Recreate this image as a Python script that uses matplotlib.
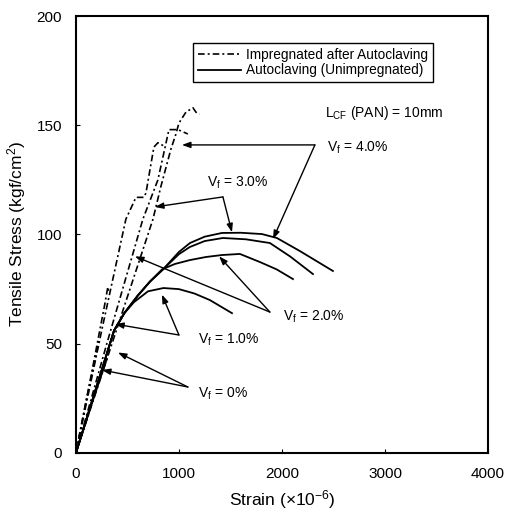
"""
Tensile stress-strain curves of carbon fibre reinforced autoclaved specimens,
impregnated vs. unimpregnated, for several fibre volume fractions.
"""
import matplotlib.pyplot as plt

plt.rcParams['font.family'] = ['Liberation Sans', 'DejaVu Sans']
plt.rcParams['mathtext.fontset'] = 'custom'
plt.rcParams['mathtext.rm'] = 'Liberation Sans'
plt.rcParams['mathtext.it'] = 'Liberation Sans'

# Impregnated after autoclaving (strain x1e-6, stress kgf/cm2)
imp_0_strain = [0, 100, 200, 230]
imp_0_stress = [0, 24, 46, 52]
imp_1_strain = [0, 150, 280, 310, 322]
imp_1_stress = [0, 36, 68, 76, 73]
imp_2_strain = [0, 250, 485, 583, 660, 680, 757, 796, 874]
imp_2_stress = [0, 56, 107, 117, 117, 119, 140, 142, 140]
imp_3_strain = [0, 300, 650, 796, 903, 990, 1087]
imp_3_stress = [0, 50, 107, 125, 148, 148, 146]
imp_4_strain = [0, 350, 748, 825, 922, 971, 1000, 1068, 1136, 1165, 1200]
imp_4_stress = [0, 50, 107, 122, 139, 146, 151, 156, 158, 156, 155]

# Autoclaving only (unimpregnated)
raw_0_strain = [0, 150, 300]
raw_0_stress = [0, 22, 43]
raw_1_strain = [0, 200, 370, 470, 563, 700, 850, 1000, 1150, 1300, 1515]
raw_1_stress = [0, 30, 56, 64, 69, 74, 75.5, 75, 73, 70, 64]
raw_2_strain = [0, 370, 470, 600, 720, 835, 960, 1107, 1262, 1417, 1592, 1786, 1950, 2107]
raw_2_stress = [0, 56, 64, 72, 78.5, 84, 86.5, 88.3, 89.7, 90.6, 91.1, 87.4, 84, 79.6]
raw_3_strain = [0, 370, 470, 600, 720, 845, 1000, 1107, 1250, 1427, 1650, 1883, 2078, 2301]
raw_3_stress = [0, 56, 64, 72, 78.5, 84, 91, 94.3, 97, 98.4, 97.8, 96.1, 90, 81.9]
raw_4_strain = [0, 370, 470, 600, 720, 845, 1000, 1107, 1250, 1417, 1600, 1806, 1951, 2175, 2495]
raw_4_stress = [0, 56, 64, 72, 78.5, 84, 92, 96.1, 99, 100.7, 100.8, 100.2, 98.4, 92.4, 83.3]

imp_series = [(imp_0_strain, imp_0_stress), (imp_1_strain, imp_1_stress),
              (imp_2_strain, imp_2_stress), (imp_3_strain, imp_3_stress),
              (imp_4_strain, imp_4_stress)]
raw_series = [(raw_0_strain, raw_0_stress), (raw_1_strain, raw_1_stress),
              (raw_2_strain, raw_2_stress), (raw_3_strain, raw_3_stress),
              (raw_4_strain, raw_4_stress)]

# Fibre content labels: text anchor, arrow tail, arrow tips (dashed, solid)
vf_labels = ['V$_{\\mathrm{f}}$ = 0%', 'V$_{\\mathrm{f}}$ = 1.0%', 'V$_{\\mathrm{f}}$ = 2.0%',
             'V$_{\\mathrm{f}}$ = 3.0%', 'V$_{\\mathrm{f}}$ = 4.0%']
vf_text_pos = [(1184, 27), (1184, 51.7), (2010, 62.2), (1272, 123.6), (2437, 139.6)]
vf_tail_pos = [(1087, 30.2), (1000, 54), (1883, 64.5), (1427, 117.2), (2320, 141)]
vf_tips = [[(252, 38), (408, 46)],
           [(380, 59), (835, 72.5)],
           [(573, 90), (1390, 90)],
           [(767, 112.6), (1515, 101)],
           [(1029, 141), (1913, 97.9)]]

fig = plt.figure(figsize=(5.06, 5.18), dpi=100, facecolor='white')
ax = fig.add_axes([0.150, 0.1255, 0.8144, 0.8436])

dash_dot = (0, (4, 1.8, 1.2, 1.8))
for i, (x, y) in enumerate(imp_series):
    ax.plot(x, y, color='black', linewidth=1.2, linestyle=dash_dot,
            label='Impregnated after Autoclaving' if i == 0 else None)
for i, (x, y) in enumerate(raw_series):
    ax.plot(x, y, color='black', linewidth=1.3, solid_joinstyle='round',
            label='Autoclaving (Unimpregnated)' if i == 0 else None)

# Annotations with two arrows per fibre content
for label, tpos, tail, tips in zip(vf_labels, vf_text_pos, vf_tail_pos, vf_tips):
    ax.text(tpos[0], tpos[1], label, fontsize=10, ha='left', va='center')
    for tip in tips:
        ax.annotate('', xy=tip, xytext=tail,
                    arrowprops=dict(arrowstyle='-|>,head_length=0.5,head_width=0.18',
                                    color='black', lw=1.0, shrinkA=0, shrinkB=0))

ax.text(2417, 155.6, 'L$_{\\mathrm{CF}}$ (PAN) = 10mm', fontsize=10, ha='left', va='center')

leg = ax.legend(loc='upper left', bbox_to_anchor=(0.284, 0.938), fontsize=9.8,
                frameon=True, fancybox=False, edgecolor='black', framealpha=1,
                handlelength=3.2, handletextpad=0.35, borderpad=0.35, labelspacing=0.12,
                borderaxespad=0)
leg.get_frame().set_linewidth(1.0)

ax.set_xlim(0, 4000)
ax.set_ylim(0, 200)
ax.set_xticks([0, 1000, 2000, 3000, 4000])
ax.set_yticks([0, 50, 100, 150, 200])
ax.tick_params(direction='in', length=3, width=0.8, labelsize=11, pad=10)
for s in ax.spines.values():
    s.set_linewidth(1.5)

ax.set_xlabel('Strain ($\\times$10$^{-6}$)', fontsize=12.5, labelpad=5)
ax.set_ylabel('Tensile Stress (kgf/cm$^{2}$)', fontsize=12.5, labelpad=6)

plt.savefig('out.png', dpi=100, facecolor='white')
